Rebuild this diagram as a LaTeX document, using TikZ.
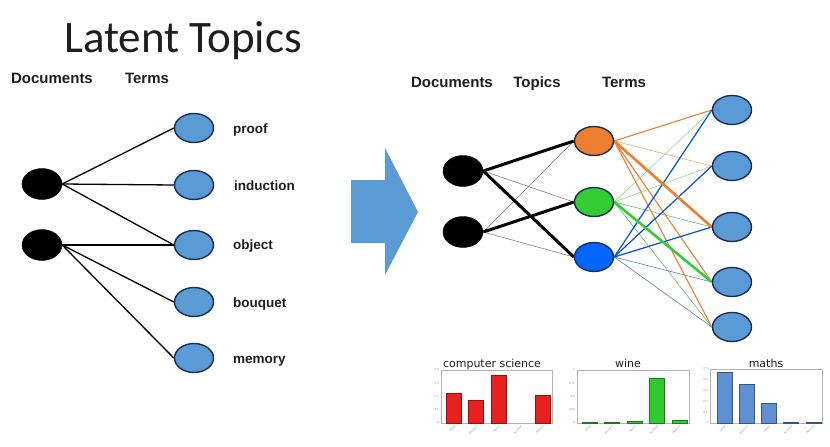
\documentclass[tikz,border=0pt]{standalone}
\usepackage{fontspec}
\setmainfont{Liberation Sans}
\newfontfamily\carl{Carlito}
\newfontfamily\dvs{DejaVu Sans}
\usetikzlibrary{shapes.geometric,backgrounds}
\definecolor{tblue}{RGB}{91,155,213}
\definecolor{tedge}{RGB}{25,45,85}
\definecolor{torange}{RGB}{237,125,49}
\definecolor{tgreen}{RGB}{51,204,51}
\definecolor{tbright}{RGB}{0,102,255}
\definecolor{tsteel}{RGB}{90,130,170}
\definecolor{ttext}{RGB}{30,30,30}
\definecolor{bred}{RGB}{232,32,32}
\definecolor{bgreen}{RGB}{50,200,50}
\definecolor{bblue}{RGB}{95,145,210}
\begin{document}
\begin{tikzpicture}[x=1pt,y=-1pt,
  docnode/.style={ellipse,fill=black,draw=black,minimum width=40pt,minimum height=31pt,inner sep=0pt},
  termnode/.style={ellipse,fill=tblue,draw=tedge,line width=1.4pt,minimum width=39pt,minimum height=29pt,inner sep=0pt},
  topicnode/.style={termnode,fill=#1},
  hdr/.style={anchor=base,font=\bfseries\fontsize{15}{15}\selectfont,text=ttext},
  termlab/.style={anchor=base west,inner xsep=0pt,font=\bfseries\fontsize{13.5}{13.5}\selectfont,text=ttext},
  ledge/.style={line width=1.3pt,black},
  thick black edge/.style={line width=3pt,black},
  thin gray edge/.style={line width=0.6pt,gray},
  charttitle/.style={anchor=base,font=\dvs\fontsize{11}{11}\selectfont,text=ttext},
  chartbox/.style={draw=gray!60,line width=0.6pt},
  ticklab/.style={anchor=east,font=\dvs\fontsize{2.6}{2.6}\selectfont,text=gray,inner sep=1pt},
  xlab/.style={anchor=north east,rotate=45,font=\dvs\fontsize{2.5}{2.5}\selectfont,text=gray,inner sep=0.5pt},
  bar/.style={fill=#1,draw=#1!60!black,line width=0.6pt}
]
\useasboundingbox (0,0) rectangle (830,447);

% ---------- left part ----------
\node[anchor=base,font=\carl\fontsize{45}{45}\selectfont,text=ttext] (title) at (183,52) {Latent Topics};
\node[hdr] (ldocs) at (52,83) {Documents};
\node[hdr] (lterms) at (147,83) {Terms};

\node[docnode] (ld1) at (42,184) {};
\node[docnode] (ld2) at (42,245) {};

\node[termnode] (lt1) at (194,128) {};
\node[termnode] (lt2) at (194,185) {};
\node[termnode] (lt3) at (194,245) {};
\node[termnode] (lt4) at (194,302) {};
\node[termnode] (lt5) at (194,358) {};

\node[termlab] (lab1) at (233,133) {proof};
\node[termlab] (lab2) at (234,190) {induction};
\node[termlab] (lab3) at (233,249) {object};
\node[termlab] (lab4) at (233,307) {bouquet};
\node[termlab] (lab5) at (233,363) {memory};

\begin{scope}[on background layer]
\draw[ledge] (ld1.east) -- (lt1.west);
\draw[ledge] (ld1.east) -- (lt2.west);
\draw[ledge] (ld1.east) -- (lt3.west);
\draw[ledge] (ld2.east) -- (lt3.west);
\draw[ledge] (ld2.east) -- (lt4.west);
\draw[ledge] (ld2.east) -- (lt5.west);
\end{scope}

% ---------- big arrow ----------
\fill[tblue] (351,180) -- (385,180) -- (385,148) -- (418,212) -- (385,275) -- (385,243) -- (351,243) -- cycle;

% ---------- right part ----------
\node[hdr] (rdocs) at (452,87) {Documents};
\node[hdr] (rtopics) at (537,87) {Topics};
\node[hdr] (rterms) at (624,87) {Terms};

\node[docnode] (rd1) at (463,171) {};
\node[docnode] (rd2) at (463,232) {};

\node[topicnode=torange] (tp1) at (594,141) {};
\node[topicnode=tgreen] (tp2) at (594,202) {};
\node[topicnode=tbright] (tp3) at (594,257) {};

\node[termnode] (rt1) at (732,110) {};
\node[termnode] (rt2) at (732,166) {};
\node[termnode] (rt3) at (732,227) {};
\node[termnode] (rt4) at (732,282) {};
\node[termnode] (rt5) at (732,327) {};

\begin{scope}[on background layer]
% documents -> topics
\draw[thin gray edge] (rd1.east) -- (tp2.west);
\draw[thin gray edge] (rd2.east) -- (tp1.west);
\draw[thin gray edge] (rd2.east) -- (tp3.west);
\draw[thick black edge] (rd1.east) -- (tp1.west);
\draw[thick black edge] (rd1.east) -- (tp3.west);
\draw[thick black edge] (rd2.east) -- (tp2.west);
% topics -> terms : thin
\draw[line width=0.5pt,tgreen!70!white] (tp2.east) -- (rt1.west);
\draw[line width=0.5pt,tgreen!70!white] (tp2.east) -- (rt2.west);
\draw[line width=0.5pt,tgreen!70!gray] (tp2.east) -- (rt3.west);
\draw[line width=0.5pt,tgreen!60!gray] (tp2.east) -- (rt5.west);
\draw[line width=0.6pt,torange!70!white] (tp1.east) -- (rt2.west);
\draw[line width=0.6pt,tsteel] (tp3.east) -- (rt4.west);
\draw[line width=0.6pt,tsteel] (tp3.east) -- (rt5.west);
% topics -> terms : medium
\draw[line width=1.1pt,torange] (tp1.east) -- (rt1.west);
\draw[line width=1.1pt,torange] (tp1.east) -- (rt4.west);
\draw[line width=1.1pt,torange] (tp1.east) -- (rt5.west);
\draw[line width=1.2pt,tbright!80!black] (tp3.east) -- (rt1.west);
\draw[line width=1.2pt,tbright!80!black] (tp3.east) -- (rt2.west);
\draw[line width=1.2pt,tbright!80!black] (tp3.east) -- (rt3.west);
% topics -> terms : thick
\draw[line width=2.6pt,torange] (tp1.east) -- (rt3.west);
\draw[line width=2.6pt,tgreen] (tp2.east) -- (rt4.west);
\end{scope}

% ---------- bar charts ----------
% computer science
\node[charttitle] (ct1) at (492,367) {computer science};
\draw[chartbox] (441,370) rectangle (552,423);
\foreach \c/\h in {454/0.227,476/0.17,499/0.36,543/0.21}
  \draw[bar=bred] (\c-7.5,423) rectangle (\c+7.5,{423-\h*132.5});
\foreach \v/\l [count=\i] in {0/0,0.1/0.1,0.2/0.2,0.3/0.3,0.4/0.4}
  \node[ticklab] (ya\i) at (440,{423-\v*132.5}) {\l};
\foreach \w [count=\i] in {proof,induction,object,bouquet,memory}
  \node[xlab] (xa\i) at ({454+(\i-1)*22.25},424.5) {\w};

% wine
\node[charttitle] (ct2) at (628,367) {wine};
\draw[chartbox] (577,370) rectangle (689,423);
\foreach \c/\h in {589.5/0.005,612/0.005,634.5/0.03,657/0.85,679.5/0.06}
  \draw[bar=bgreen] (\c-7.5,423) rectangle (\c+7.5,{423-\h*53});
\foreach \v/\l [count=\i] in {0/0,0.25/0.25,0.5/0.5,0.75/0.75,1/1}
  \node[ticklab] (yb\i) at (576,{423-\v*53}) {\l};
\foreach \w [count=\i] in {proof,induction,object,bouquet,memory}
  \node[xlab] (xb\i) at ({589.5+(\i-1)*22.5},424.5) {\w};

% maths
\node[charttitle] (ct3) at (766,367) {maths};
\draw[chartbox] (710,369) rectangle (822,423);
\foreach \c/\h in {724.5/0.47,746.7/0.36,768.9/0.185,791.1/0.004,813.3/0.004}
  \draw[bar=bblue] (\c-7.5,423) rectangle (\c+7.5,{423-\h*108});
\foreach \v/\l [count=\i] in {0/0,0.1/0.1,0.2/0.2,0.3/0.3,0.4/0.4,0.5/0.5}
  \node[ticklab] (yc\i) at (709,{423-\v*108}) {\l};
\foreach \w [count=\i] in {proof,induction,object,bouquet,memory}
  \node[xlab] (xc\i) at ({724.5+(\i-1)*22.2},424.5) {\w};
\end{tikzpicture}
\end{document}
